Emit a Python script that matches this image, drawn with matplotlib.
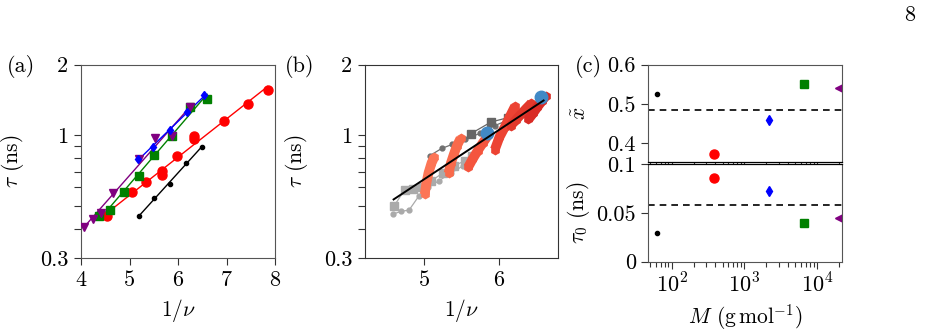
import numpy as np
import matplotlib
matplotlib.use("Agg")
import matplotlib.pyplot as plt
from matplotlib.ticker import FixedLocator, NullFormatter, FixedFormatter

FS = 16
LFS = 15.5
plt.rcParams.update({
    'font.family': 'serif', 'font.serif': ['cmr10'], 'mathtext.fontset': 'cm',
    'axes.formatter.use_mathtext': True, 'font.size': FS, 'axes.unicode_minus': False,
})

# ---------------- panel (a) data ----------------
black_x = [5.20, 5.50, 5.84, 6.17, 6.49]
black_y = [0.452, 0.542, 0.622, 0.764, 0.893]
red_x = [4.54, 5.06, 5.35, 5.66, 5.68, 5.98, 6.33, 6.34, 6.95, 7.45, 7.85]
red_y = [0.452, 0.575, 0.630, 0.68, 0.705, 0.817, 0.96, 0.99, 1.151, 1.354, 1.563]
green_x = [4.37, 4.60, 4.88, 5.19, 5.51, 5.88, 6.25, 6.60]
green_y = [0.452, 0.480, 0.571, 0.673, 0.828, 0.997, 1.32, 1.432]
purple_x = [4.06, 4.25, 4.41, 4.66, 5.19, 5.53, 5.88, 6.25]
purple_y = [0.408, 0.442, 0.468, 0.567, 0.796, 0.971, 0.99, 1.32]
blue_x = [5.17, 5.49, 5.84, 6.19, 6.54]
blue_y = [0.796, 0.889, 1.054, 1.257, 1.479]

# ---------------- panel (b) data ----------------
gl_circ_x = [4.59, 4.69, 4.80, 4.93, 5.06, 5.20, 5.36, 5.52, 5.62]
gl_circ_y = [0.462, 0.474, 0.480, 0.55, 0.60, 0.64, 0.69, 0.74, 0.78]
gl_sq_x = [4.60, 4.74, 4.85, 4.98, 5.10, 5.25, 5.40, 5.55, 5.65]
gl_sq_y = [0.50, 0.585, 0.592, 0.60, 0.64, 0.69, 0.74, 0.78, 0.82]
gd_circ_x = [5.08, 5.24, 5.38, 5.55, 5.75, 5.95, 6.15, 6.35]
gd_circ_y = [0.82, 0.88, 0.915, 0.96, 1.02, 1.10, 1.17, 1.24]
gd_sq_x = [5.63, 5.90, 6.13, 6.35]
gd_sq_y = [1.017, 1.14, 1.19, 1.26]
stripes_x = [
    [5.01, 5.03, 5.06, 5.10, 5.14],
    [5.33, 5.36, 5.40, 5.44, 5.49],
    [5.59, 5.65, 5.72, 5.79, 5.86],
    [5.95, 6.01, 6.08, 6.15, 6.22],
    [6.16, 6.23, 6.30, 6.37, 6.44],
    [6.40, 6.46, 6.52, 6.58, 6.63],
]
stripes_y = [
    [0.56, 0.62, 0.69, 0.76, 0.81],
    [0.69, 0.76, 0.83, 0.90, 0.97],
    [0.73, 0.79, 0.86, 0.93, 1.00],
    [0.87, 0.98, 1.08, 1.20, 1.33],
    [1.10, 1.16, 1.23, 1.30, 1.37],
    [1.17, 1.24, 1.32, 1.40, 1.47],
]
stripe_colors = ['#fc7556', '#f96a4b', '#f4553e', '#ec4333', '#e2382b', '#d92b25']
bblue_x = [5.85, 6.57]
bblue_y = [1.024, 1.45]
fit_x = [4.593, 6.603]
fit_y = [0.533, 1.408]

# ---------------- panel (c) data ----------------
M = [63, 387, 2210, 6580, 20200]
xt = [0.525, 0.372, 0.458, 0.551, 0.540]
tau0 = [0.0298, 0.0862, 0.0729, 0.0394, 0.0452]
xt_mean = 0.485
tau0_mean = 0.0579
c_colors = ['black', 'red', 'blue', 'green', 'purple']
c_markers = ['.', 'o', 'd', 's', '<']
c_ms = [6, 6.5, 5, 6, 5.5]
M_major = [1e2, 1e3, 1e4]
M_minor = [50, 60, 70, 80, 90, 200, 300, 400, 500, 600, 700, 800, 900,
           2000, 3000, 4000, 5000, 6000, 7000, 8000, 9000, 20000]

W, H = 935, 336
fig = plt.figure(figsize=(W / 100, H / 100), dpi=100)

def rect(l, r, t, b):
    return [l / W, 1 - b / H, (r - l) / W, (b - t) / H]

axA = fig.add_axes(rect(81, 275, 64.7, 258))
axB = fig.add_axes(rect(365, 558.3, 64.7, 258))
axC1 = fig.add_axes(rect(648.3, 842.3, 64.7, 162.4))
axC2 = fig.add_axes(rect(648.3, 842.3, 164.3, 261.7))

def style(ax):
    for s in ax.spines.values():
        s.set_color('#555555')
        s.set_linewidth(0.8)
    ax.tick_params(which='both', direction='out', color='#333333', width=0.8, labelsize=FS, pad=4)
    ax.tick_params(which='major', length=5)
    ax.tick_params(which='minor', length=5)

for ax in (axA, axB):
    style(ax)
    ax.set_yscale('log')
    ax.set_ylim(0.3, 2)
    ax.yaxis.set_major_locator(FixedLocator([0.3, 1, 2]))
    ax.yaxis.set_major_formatter(FixedFormatter(['0.3', '1', '2']))
    ax.yaxis.set_minor_locator(FixedLocator([0.4, 0.5, 0.6, 0.7, 0.8, 0.9]))
    ax.yaxis.set_minor_formatter(NullFormatter())
    ax.set_ylabel(r'$\tau$ (ns)', fontsize=LFS)
    ax.set_xlabel(r'$1/\nu$', fontsize=LFS, labelpad=5)

def fitline(ax, x, y, color, lw=1.0):
    p = np.polyfit(x, np.log10(y), 1)
    xx = np.array([min(x), max(x)])
    ax.plot(xx, 10 ** np.polyval(p, xx), '-', color=color, lw=lw, zorder=2)

# panel a
fitline(axA, black_x, black_y, 'black')
fitline(axA, red_x, red_y, 'red')
fitline(axA, green_x, green_y, 'green')
fitline(axA, purple_x, purple_y, 'purple')
fitline(axA, blue_x, blue_y, 'blue')
axA.plot(black_x, black_y, '.', color='black', ms=6, zorder=3)
axA.plot(red_x, red_y, 'o', color='red', ms=6.5, zorder=3)
axA.plot(green_x, green_y, 's', color='green', ms=6, zorder=3)
axA.plot(purple_x, purple_y, 'v', color='purple', ms=6, zorder=4)
axA.plot(blue_x, blue_y, 'd', color='blue', ms=4.5, zorder=5)
axA.set_xlim(4, 8)
axA.set_xticks([4, 5, 6, 7, 8])
axA.set_xticklabels(['4', '5', '6', '7', '8'])
axA.yaxis.set_label_coords(-0.285, 0.5)

# panel b
axB.plot(gl_circ_x, gl_circ_y, '-o', color='#aaaaaa', ms=3.5, lw=0.9, zorder=2)
axB.plot(gl_sq_x, gl_sq_y, '-s', color='#aaaaaa', ms=5.5, lw=0.9, zorder=2)
axB.plot(gd_circ_x, gd_circ_y, '-o', color='#707070', ms=3.5, lw=0.9, zorder=2)
axB.plot(gd_sq_x, gd_sq_y, '-s', color='#666666', ms=6, lw=0.9, zorder=2)
for sx, sy, sc in zip(stripes_x, stripes_y, stripe_colors):
    axB.plot(sx, sy, '-', color=sc, lw=7, solid_capstyle='butt', zorder=3)
    axB.plot(sx, sy, 'h', color=sc, ms=6, zorder=3)
axB.plot(bblue_x, bblue_y, 'o', color='#4189c6', ms=9, zorder=4)
axB.plot(fit_x, fit_y, '-', color='black', lw=1.4, zorder=5)
axB.set_xlim(4.21, 6.80)
axB.set_xticks([5, 6])
axB.set_xticklabels(['5', '6'])
axB.yaxis.set_label_coords(-0.285, 0.5)
for s in axB.spines.values():
    s.set_color('#333333')

# panel c
for ax in (axC1, axC2):
    style(ax)
    ax.set_xscale('log')
    ax.set_xlim(47.5, 22300)
    ax.xaxis.set_major_locator(FixedLocator(M_major))
    ax.xaxis.set_minor_locator(FixedLocator(M_minor))
    ax.xaxis.set_minor_formatter(NullFormatter())
    ax.tick_params(axis='x', which='minor', length=3.5)
for i in range(5):
    axC1.plot(M[i], xt[i], c_markers[i], color=c_colors[i], ms=c_ms[i])
    axC2.plot(M[i], tau0[i], c_markers[i], color=c_colors[i], ms=c_ms[i])
axC1.axhline(xt_mean, ls='--', color='black', lw=1.2, dashes=(4, 3))
axC2.axhline(tau0_mean, ls='--', color='black', lw=1.2, dashes=(4, 3))
axC1.set_ylim(0.35, 0.6)
axC1.yaxis.set_major_locator(FixedLocator([0.4, 0.5, 0.6]))
axC1.yaxis.set_major_formatter(FixedFormatter(['0.4', '0.5', '0.6']))
axC1.xaxis.set_major_formatter(NullFormatter())
axC1.spines['bottom'].set_color('black')
axC1.spines['bottom'].set_linewidth(0.9)
axC2.set_ylim(0, 0.1)
axC2.yaxis.set_major_locator(FixedLocator([0, 0.05, 0.1]))
axC2.yaxis.set_major_formatter(FixedFormatter(['0', '0.05', '0.1']))
axC2.xaxis.set_major_formatter(FixedFormatter([r'$10^{2}$', r'$10^{3}$', r'$10^{4}$']))
axC2.tick_params(axis='x', which='major', pad=3)
axC2.spines['top'].set_color('black')
axC2.spines['top'].set_linewidth(0.9)
axC1.set_ylabel(r'$\tilde{x}$', fontsize=LFS)
axC2.set_ylabel(r'$\tau_0$ (ns)', fontsize=LFS)
axC1.yaxis.set_label_coords(-0.30, 0.5)
axC2.yaxis.set_label_coords(-0.29, 0.5)
axC2.set_xlabel(r'$M$ $(\mathrm{g\,mol^{-1}})$', fontsize=LFS, labelpad=4)

fig.text(7 / W, 1 - 66 / H, '(a)', va='center', ha='left', fontsize=FS)
fig.text(285 / W, 1 - 66 / H, '(b)', va='center', ha='left', fontsize=FS)
fig.text(575 / W, 1 - 66 / H, '(c)', va='center', ha='left', fontsize=FS)
fig.text(910 / W, 1 - 15 / H, '8', va='center', ha='center', fontsize=FS)

fig.savefig('out.png', dpi=100)
